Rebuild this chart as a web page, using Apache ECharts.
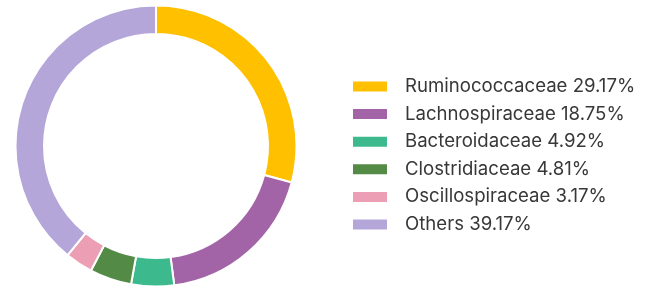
<!DOCTYPE html>
<html><head><meta charset="utf-8">
<script src="https://cdn.jsdelivr.net/npm/echarts@6/dist/echarts.min.js"></script>
<style>html,body{margin:0;padding:0;background:#fff}#c{width:652px;height:288px}</style>
</head><body><div id="c"></div>
<script>
const categories = ["Ruminococcaceae","Lachnospiraceae","Bacteroidaceae","Clostridiaceae","Oscillospiraceae","Others"];
const values = [29.17, 18.75, 4.92, 4.81, 3.17, 39.17];
const colors = ["#FFC000","#A364A7","#3DBA8D","#538B46","#EC9FB4","#B5A6DA"];

const chart = echarts.init(document.getElementById('c'), null, {renderer:'canvas'});
const lookup = {};
categories.forEach((c,i)=>lookup[c]=values[i]);
chart.setOption({
  animation:false,
  color: colors,
  legend:{
    orient:'vertical',
    left:346, top:72,
    itemWidth:36, itemHeight:12, itemGap:8.6,
    icon:'rect',
    textStyle:{fontFamily:'Inter', fontSize:18.6, color:'#383838', padding:[0,0,0,12]},
    formatter: n => n + ' ' + lookup[n].toFixed(2) + '%'
  },
  series:[{
    type:'pie',
    center:[156,146],
    radius:[112,140.5],
    startAngle:90,
    clockwise:true,
    label:{show:false},
    labelLine:{show:false},
    itemStyle:{borderColor:'#fff', borderWidth:2},
    emphasis:{disabled:true},
    data: categories.map((c,i)=>({name:c, value:values[i]}))
  }]
});
</script></body></html>
